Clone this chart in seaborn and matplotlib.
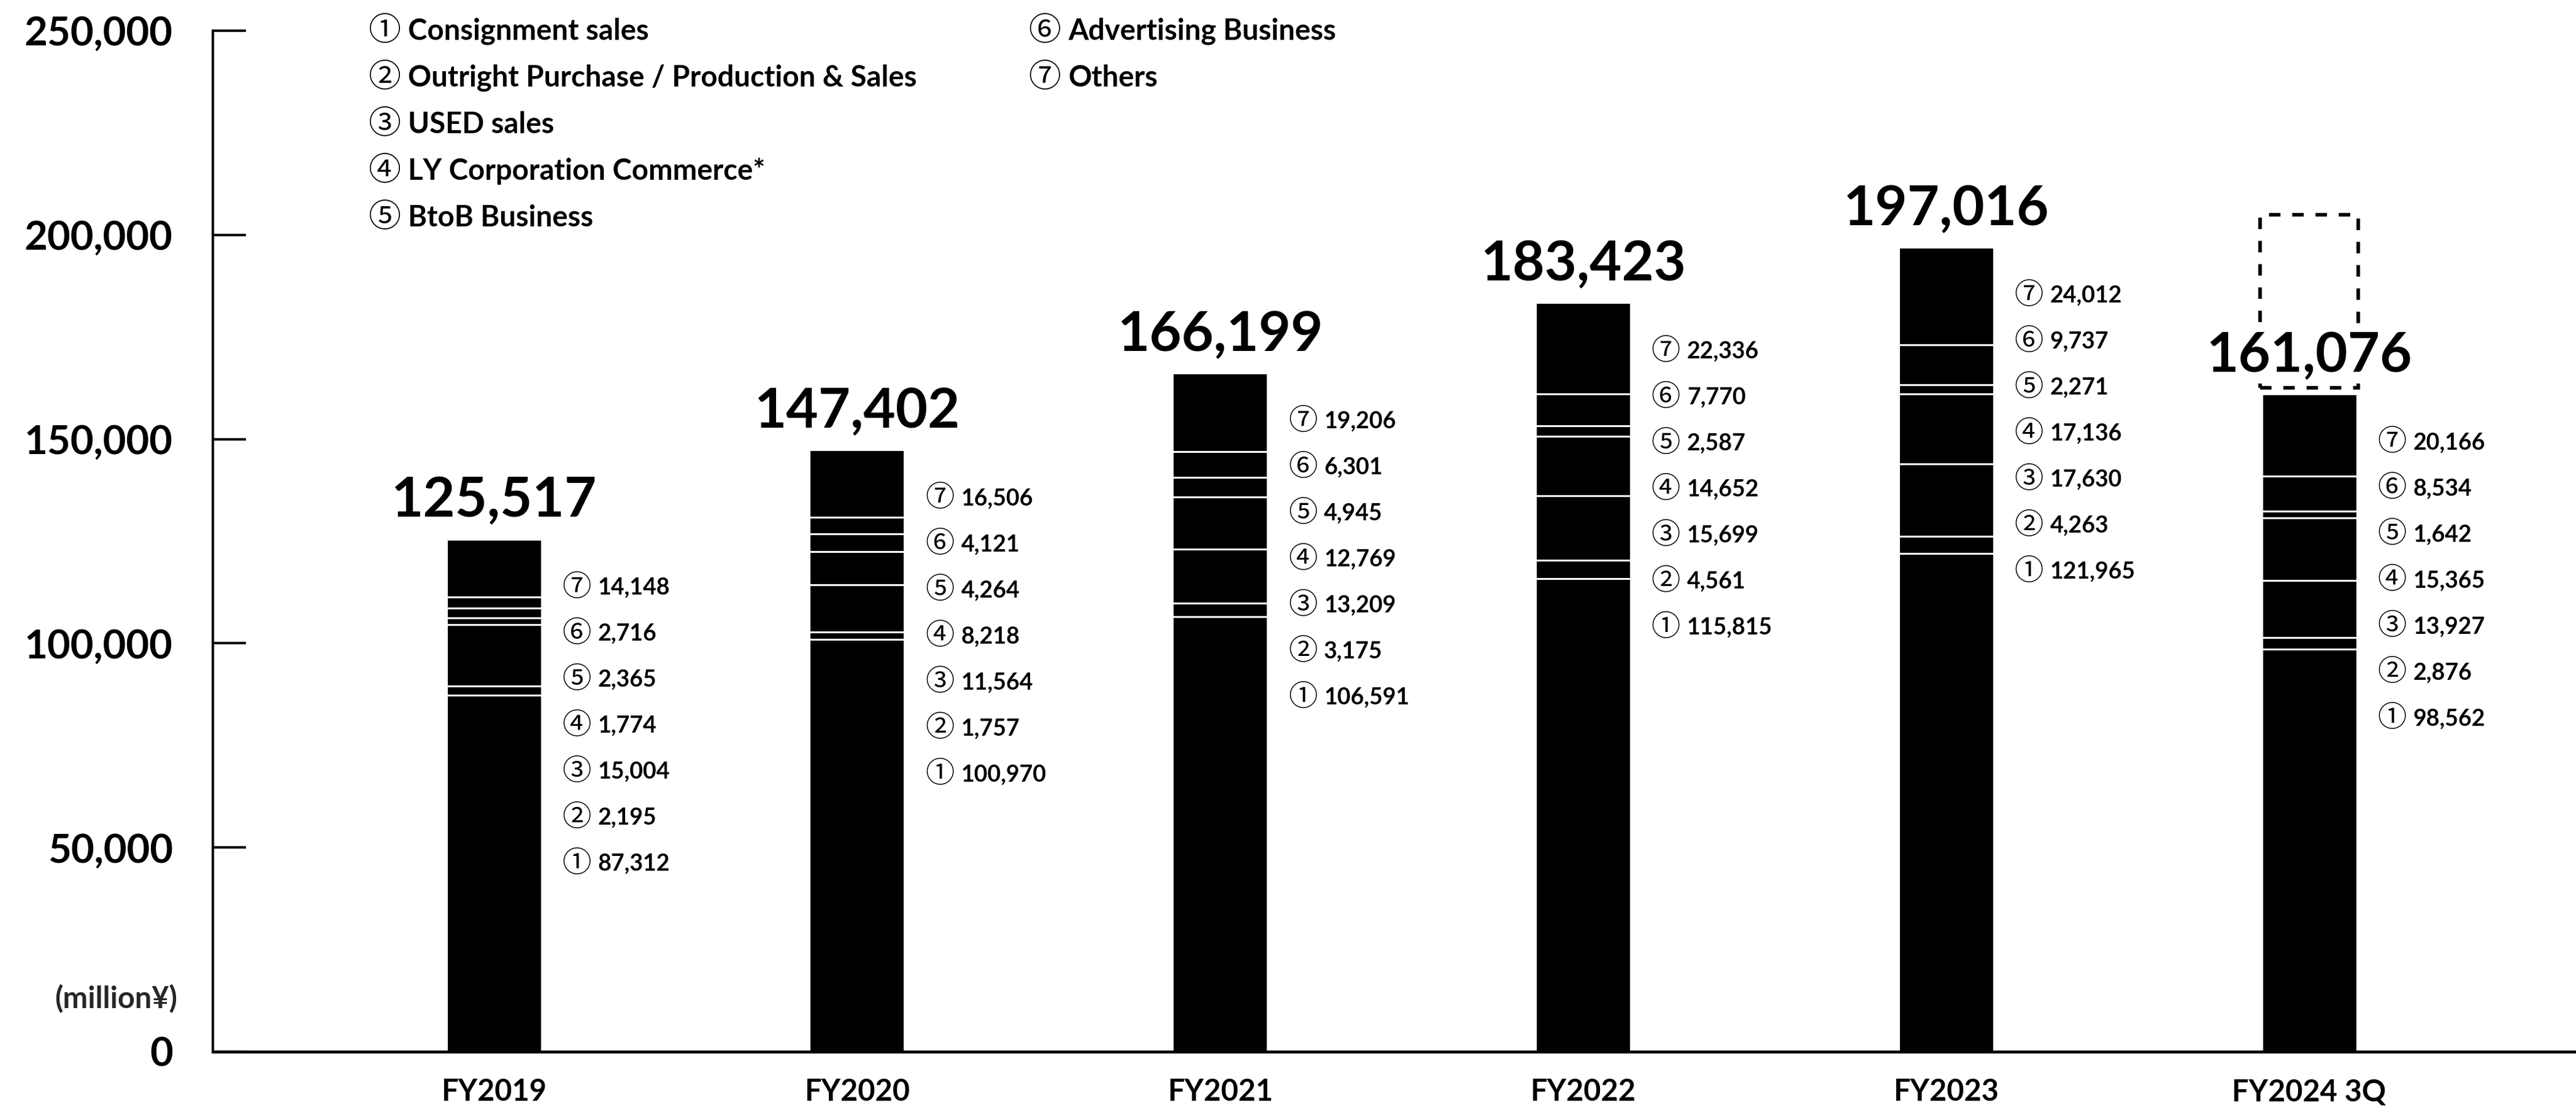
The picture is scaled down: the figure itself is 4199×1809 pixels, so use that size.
import numpy as np
import pandas as pd
import matplotlib
matplotlib.use("Agg")
import matplotlib.pyplot as plt
import seaborn as sns

# ---- data (million yen) ----
years = ["FY2019", "FY2020", "FY2021", "FY2022", "FY2023", "FY2024 3Q"]
consignment = [87312, 100970, 106591, 115815, 121965, 98562]
outright = [2195, 1757, 3175, 4561, 4263, 2876]
used_sales = [15004, 11564, 13209, 15699, 17630, 13927]
ly_commerce = [1774, 8218, 12769, 14652, 17136, 15365]
btob = [2365, 4264, 4945, 2587, 2271, 1642]
advertising = [2716, 4121, 6301, 7770, 9737, 8534]
others = [14148, 16506, 19206, 22336, 24012, 20166]
total_labels = [125517, 147402, 166199, 183423, 197016, 161076]
forecast_last = 205000

segment_names = [
    "Consignment sales",
    "Outright Purchase / Production & Sales",
    "USED sales",
    "LY Corporation Commerce*",
    "BtoB Business",
    "Advertising Business",
    "Others",
]
circled = ["①", "②", "③", "④", "⑤", "⑥", "⑦"]
y_ticks = [0, 50000, 100000, 150000, 200000, 250000]
unit_label = "(million¥)"

segments = [consignment, outright, used_sales, ly_commerce, btob, advertising, others]
seg = np.array(segments, dtype=float)          # shape (7, n_years)
cum = np.cumsum(seg, axis=0)                    # cumulative stack heights
stack_top = cum[-1]

# ---- style ----
sns.set_theme(style="white")
FONT = ["Lato", "DejaVu Sans", "Noto Sans CJK JP"]
CIRCLE_FONT = ["Noto Sans CJK JP", "DejaVu Sans"]
plt.rcParams["font.family"] = FONT
plt.rcParams["font.weight"] = "bold"

W, H = 4199, 1809
DPI = 100
fig = plt.figure(figsize=(W / DPI, H / DPI), dpi=DPI, facecolor="white")
ax = fig.add_axes([347 / W, 1 - 1714 / H, 1 - 347 / W, (1714 - 50) / H])
ax.set_facecolor("white")

BAR_W = 0.262
# Stacked bars: draw cumulative heights from the tallest down, the white
# edge of each layer forms the separator line between segments.
for k in range(seg.shape[0] - 1, -1, -1):
    df = pd.DataFrame({"year": years, "value": cum[k]})
    sns.barplot(data=df, x="year", y="value", color="black", saturation=1,
                width=BAR_W, edgecolor="white", linewidth=2.2,
                errorbar=None, ax=ax, zorder=2)

# dashed outline for the full-year figure above the latest bar
last = len(years) - 1
gap = 1500
ax.bar(last, forecast_last - (stack_top[last] + gap), bottom=stack_top[last] + gap,
       width=0.27, fill=False, edgecolor="black", linewidth=4.2,
       linestyle=(0, (3.2, 3.3)), zorder=3)

# totals above bars
for i, t in enumerate(total_labels):
    ax.annotate(f"{t:,}", xy=(i, stack_top[i]), xytext=(0, 26),
                textcoords="offset points", ha="center", va="baseline",
                fontsize=65, fontweight="bold", color="black", family=FONT,
                zorder=5,
                bbox=dict(boxstyle="square,pad=0.05", facecolor="white",
                          edgecolor="none"))


def circled_label(text, num, xy, xycoords, dy, size_c, size_t, gap_pt):
    """Circled number followed by its text, left aligned at xy."""
    ax.annotate(num, xy=xy, xycoords=xycoords, xytext=(0, dy),
                textcoords="offset points", ha="left", va="center",
                fontsize=size_c, fontweight="normal", family=CIRCLE_FONT,
                color="black", zorder=5, annotation_clip=False)
    ax.annotate(text, xy=xy, xycoords=xycoords, xytext=(gap_pt, dy),
                textcoords="offset points", ha="left", va="center",
                fontsize=size_t, fontweight="bold", family=FONT,
                color="black", zorder=5, annotation_clip=False)


# segment values listed beside each bar, top segment first
for i in range(len(years)):
    for row, k in enumerate(range(seg.shape[0] - 1, -1, -1)):
        circled_label(f"{int(seg[k, i]):,}", circled[k],
                      (i + BAR_W / 2 + 0.057, stack_top[i]), "data",
                      -57 - row * 54, 34, 27, 42)

# axes
ax.set_xlim(-0.774, 5.735)
ax.set_ylim(0, 250000)
ax.set_yticks(y_ticks)
ax.set_yticklabels([f"{v:,}" for v in y_ticks], fontsize=47, fontweight="bold",
                   family=FONT)
ax.set_xticks(range(len(years)))
ax.set_xticklabels(years, fontsize=35, fontweight="bold", family=FONT)
ax.set_xlabel("")
ax.set_ylabel("")
ax.tick_params(axis="y", direction="in", length=39, width=2.9, pad=47,
               colors="black", left=True)
ax.tick_params(axis="x", length=0, pad=31, colors="black")
for s in ["top", "right"]:
    ax.spines[s].set_visible(False)
ax.spines["left"].set_linewidth(2.9)
ax.spines["bottom"].set_linewidth(3.4)
ax.spines["left"].set_color("black")
ax.spines["bottom"].set_color("black")
ax.grid(False)

# unit label
fig.text(289 / W, 1 - 1628 / H, unit_label, ha="right", va="center",
         fontsize=35, fontweight="bold", family=FONT)

# category key in two columns
col_x = [600 / W, 1676 / W]
row_y0 = 51
row_dy = 76
for k, name in enumerate(segment_names):
    col = 0 if k < 5 else 1
    row = k if k < 5 else k - 5
    circled_label(name, circled[k],
                  (col_x[col], 1 - (row_y0 + row * row_dy) / H),
                  "figure fraction", 0, 38, 34, 47)

fig.savefig("out.png", dpi=DPI, facecolor="white")
